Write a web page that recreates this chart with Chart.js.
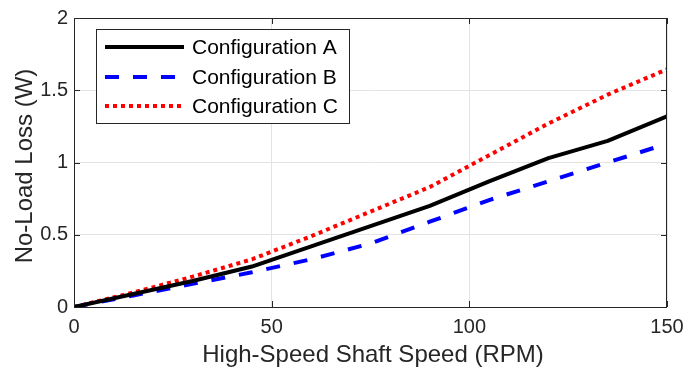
<!DOCTYPE html>
<html lang="en">
<head>
    <meta charset="UTF-8">
    <title>No-Load Loss</title>
    <script src="https://cdn.jsdelivr.net/npm/chart.js"></script>
    <style>
        html, body { margin: 0; padding: 0; background: #fff; }
        #wrap { width: 697px; height: 369px; position: relative; }
    </style>
</head>
<body>
    <div id="wrap"><canvas id="loss-chart"></canvas></div>
    <script>
    // speed in RPM, losses in W
    const speeds = [0, 15, 30, 45, 60, 75, 90, 105, 120, 135, 150];
    const configA = [0, 0.09, 0.18, 0.28, 0.42, 0.56, 0.70, 0.87, 1.03, 1.15, 1.32];
    const configB = [0, 0.08, 0.16, 0.24, 0.33, 0.44, 0.59, 0.74, 0.87, 1.00, 1.13];
    const configC = [0, 0.10, 0.21, 0.33, 0.49, 0.66, 0.83, 1.05, 1.27, 1.47, 1.645];
    const seriesNames = ['Configuration A', 'Configuration B', 'Configuration C'];
    const xTicks = [0, 50, 100, 150];
    const yTicks = [0, 0.5, 1, 1.5, 2];

    const axisColor = '#262626';
    const gridColor = '#e3e3e3';
    const fontFamily = '"Liberation Sans", Arial, sans-serif';

    const toPoints = ys => speeds.map((s, i) => ({ x: s, y: ys[i] }));

    // box, inward ticks, axis titles and the legend
    const framePlugin = {
        id: 'frame',
        afterDraw(chart) {
            const { ctx, chartArea: a, scales } = chart;
            ctx.save();
            ctx.strokeStyle = axisColor;
            ctx.lineWidth = 1;
            ctx.strokeRect(a.left + 0.5, a.top + 0.5, a.right - a.left - 1, a.bottom - a.top);
            ctx.beginPath();
            xTicks.forEach(t => {
                const px = Math.round(scales.x.getPixelForValue(t)) + 0.5;
                ctx.moveTo(px, a.bottom); ctx.lineTo(px, a.bottom - 6);
                ctx.moveTo(px, a.top); ctx.lineTo(px, a.top + 6);
            });
            yTicks.forEach(t => {
                const py = Math.round(scales.y.getPixelForValue(t)) + 0.5;
                ctx.moveTo(a.left, py); ctx.lineTo(a.left + 6, py);
                ctx.moveTo(a.right, py); ctx.lineTo(a.right - 6, py);
            });
            ctx.stroke();

            // axis titles
            ctx.fillStyle = axisColor;
            ctx.font = '24px ' + fontFamily;
            ctx.textAlign = 'center';
            ctx.textBaseline = 'alphabetic';
            ctx.fillText('High-Speed Shaft Speed (RPM)', 373, 362);
            ctx.save();
            ctx.translate(32, 166);
            ctx.rotate(-Math.PI / 2);
            ctx.fillText('No-Load Loss (W)', 0, 0);
            ctx.restore();

            // legend
            const lx = 96, ly = 29, lw = 253, lh = 94;
            ctx.fillStyle = '#fff';
            ctx.fillRect(lx, ly, lw, lh);
            ctx.strokeStyle = axisColor;
            ctx.strokeRect(lx + 0.5, ly + 0.5, lw, lh);
            const rows = [47, 77, 106];
            chart.data.datasets.forEach((ds, i) => {
                ctx.save();
                ctx.strokeStyle = ds.borderColor;
                ctx.lineWidth = ds.borderWidth;
                ctx.setLineDash(ds.borderDash || []);
                ctx.lineCap = 'butt';
                ctx.beginPath();
                ctx.moveTo(105, rows[i]);
                ctx.lineTo(184, rows[i]);
                ctx.stroke();
                ctx.restore();
                ctx.fillStyle = '#000';
                ctx.font = '21px ' + fontFamily;
                ctx.textAlign = 'left';
                ctx.textBaseline = 'middle';
                ctx.fillText(ds.label, 192, rows[i] + 1);
            });
            ctx.restore();
        }
    };

    const tickFont = { family: fontFamily, size: 20 };

    new Chart(document.getElementById('loss-chart'), {
        type: 'line',
        data: {
            datasets: [
                { label: seriesNames[0], data: toPoints(configA), borderColor: '#000000', borderWidth: 4 },
                { label: seriesNames[1], data: toPoints(configB), borderColor: '#0000ff', borderWidth: 4, borderDash: [14, 14] },
                { label: seriesNames[2], data: toPoints(configC), borderColor: '#ff0000', borderWidth: 4, borderDash: [4, 4] }
            ]
        },
        options: {
            responsive: true,
            maintainAspectRatio: false,
            animation: false,
            elements: {
                point: { radius: 0, hoverRadius: 0 },
                line: { tension: 0, borderJoinStyle: 'round', fill: false }
            },
            layout: { padding: { left: 0, right: 30, top: 14, bottom: 0 } },
            plugins: { legend: { display: false }, tooltip: { enabled: false } },
            scales: {
                x: {
                    type: 'linear', min: 0, max: 150,
                    afterBuildTicks: s => { s.ticks = xTicks.map(v => ({ value: v })); },
                    afterFit: s => { s.height = 62; },
                    grid: { color: gridColor, drawTicks: false },
                    border: { display: false },
                    ticks: { color: axisColor, padding: 8, font: tickFont, callback: v => String(v) }
                },
                y: {
                    min: 0, max: 2,
                    afterBuildTicks: s => { s.ticks = yTicks.map(v => ({ value: v })); },
                    afterFit: s => { s.width = 74; },
                    grid: { color: gridColor, drawTicks: false },
                    border: { display: false },
                    ticks: { color: axisColor, padding: 6, font: tickFont, callback: v => String(v) }
                }
            }
        },
        plugins: [framePlugin]
    });
    </script>
</body>
</html>
